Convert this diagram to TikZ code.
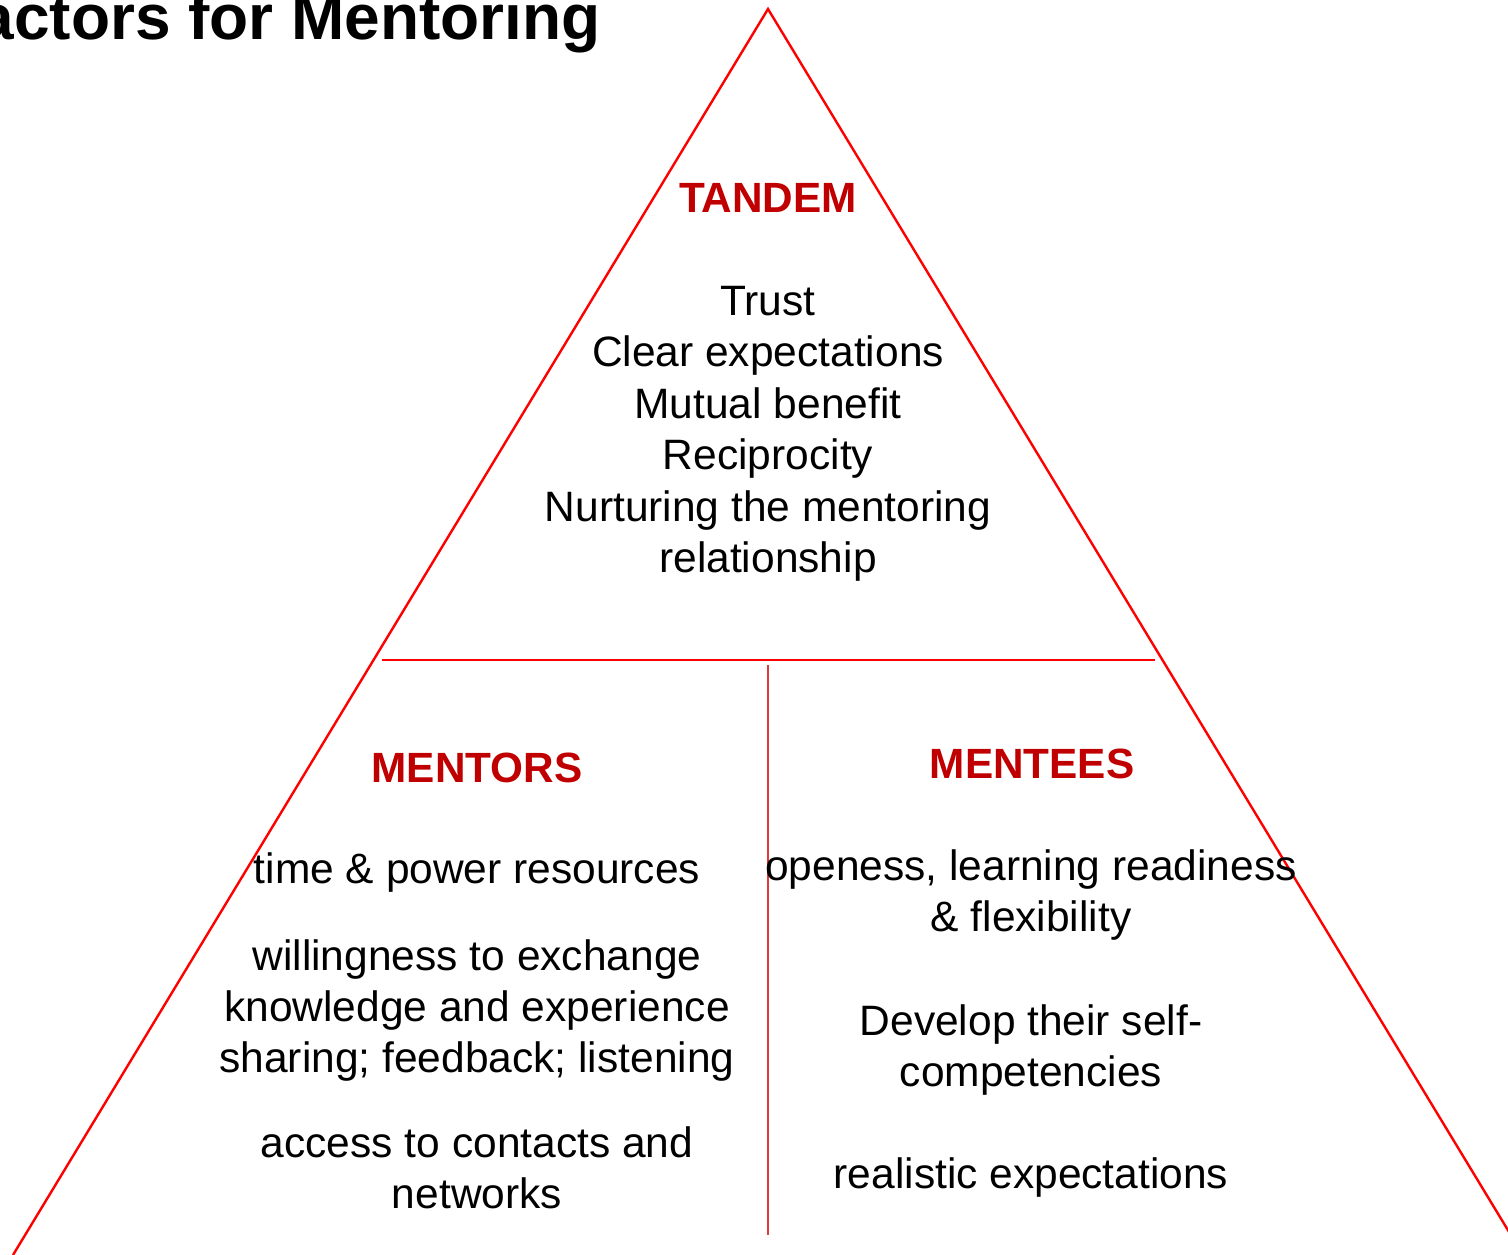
\documentclass[tikz,border=0pt]{standalone}
\usepackage{fontspec}
\setmainfont{Liberation Sans}
\definecolor{linered}{HTML}{FF0000}
\definecolor{thinred}{HTML}{E03A3A}
\definecolor{headred}{HTML}{C00000}
\begin{document}
\begin{tikzpicture}[x=1pt,y=-1pt,
  edge/.style={draw=linered,line width=2.4pt},
  divider/.style={draw=linered,line width=1.6pt},
  splitter/.style={draw=thinred,line width=1.1pt},
  body/.style={anchor=base,inner sep=0pt,font=\fontsize{42.5}{51}\selectfont,text=black},
  heading/.style={anchor=base,inner sep=0pt,font=\fontsize{42.3}{50}\selectfont\bfseries,text=headred},
  titletext/.style={anchor=base east,inner sep=0pt,font=\fontsize{64}{72}\selectfont\bfseries,text=black}]
\useasboundingbox (0,0) rectangle (1508,1255);
\clip (0,0) rectangle (1508,1255);
% triangle
\coordinate (apex) at (768,9);
\coordinate (bl) at (13,1255);
\coordinate (br) at (1523,1255);
\coordinate (hl) at (382,660);
\coordinate (hr) at (1155,660);
\coordinate (vt) at (768,665);
\coordinate (vb) at (768,1235);
\draw[edge,line join=miter] (bl) -- (apex) -- (br);
\draw[divider] (hl) -- (hr);
\draw[splitter] (vt) -- (vb);
% title
\node[titletext] (title) at (601,40) {actors for Mentoring};
% tandem
\node[heading] (tandem) at (768,212) {TANDEM};
\node[body] (t1) at (768,315) {Trust};
\node[body] (t2) at (768,366.5) {Clear expectations};
\node[body] (t3) at (768,418) {Mutual benefit};
\node[body] (t4) at (768,469.5) {Reciprocity};
\node[body] (t5) at (768,521) {Nurturing the mentoring};
\node[body] (t6) at (768,572) {relationship};
% mentors
\node[heading] (mentors) at (477,782) {MENTORS};
\node[body] (m1) at (477,883) {time \& power resources};
\node[body] (m2) at (477,970) {willingness to exchange};
\node[body] (m3) at (477,1021) {knowledge and experience};
\node[body] (m4) at (477,1072) {sharing; feedback; listening};
\node[body] (m5) at (477,1157) {access to contacts and};
\node[body] (m6) at (477,1208) {networks};
% mentees
\node[heading] (mentees) at (1032,778) {MENTEES};
\node[body] (e1) at (1031,880) {openess, learning readiness};
\node[body] (e2) at (1031,931) {\& flexibility};
\node[body] (e3) at (1031,1035) {Develop their self-};
\node[body] (e4) at (1031,1086) {competencies};
\node[body] (e5) at (1031,1188) {realistic expectations};
\end{tikzpicture}
\end{document}
